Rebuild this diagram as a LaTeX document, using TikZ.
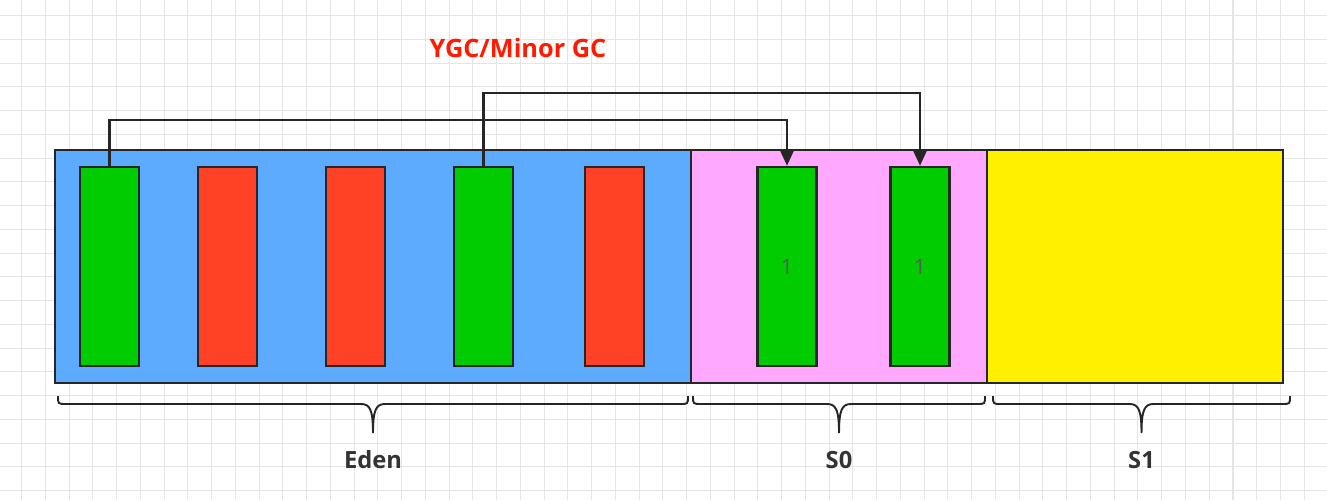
\documentclass[tikz,border=0pt]{standalone}
\usepackage{fontspec}
\setmainfont{Open Sans}
\usepackage{tikz}
\usetikzlibrary{math,arrows.meta}
\definecolor{edenblue}{HTML}{5CABFF}
\definecolor{szeropink}{HTML}{FFA8FF}
\definecolor{soneyellow}{HTML}{FFF000}
\definecolor{livegreen}{HTML}{00CC00}
\definecolor{deadred}{HTML}{FF4125}
\definecolor{gcred}{HTML}{FF1A00}
\definecolor{edge}{HTML}{262626}
\begin{document}
\begin{tikzpicture}[x=0.02cm,y=-0.02cm,
gridline/.style={draw=black!10,line width=0.6pt},
area/.style={draw=edge,line width=1.4pt,inner sep=0pt,outer sep=0pt,anchor=north west,minimum height=4.66cm},
obj/.style={draw=edge,line width=1.4pt,inner sep=0pt,minimum width=1.18cm,minimum height=3.98cm,font=\fontsize{12}{14}\selectfont,text=black!65},
live/.style={obj,fill=livegreen},dead/.style={obj,fill=deadred},
move/.style={draw=edge,line width=1.4pt,-{Triangle[length=0.3cm,width=0.26cm]}},
lbl/.style={font=\fontsize{13.5}{16}\bfseries,text=black!80}]
\useasboundingbox(0,0)rectangle(1327,500);
\foreach\k in{0,...,54}{\draw[gridline](21.7+23.75*\k,0)--++(0,500);}
\foreach\k in{0,...,20}{\draw[gridline](0,15.7+23.75*\k)--++(1327,0);}
\node[area,fill=edenblue,minimum width=12.72cm](eden)at(55,150){};
\node[area,fill=szeropink,minimum width=5.92cm](szero)at(eden.north east){};
\node[area,fill=soneyellow,minimum width=5.92cm](sone)at(szero.north east){};
\foreach[count=\j]\x/\c in{109.5/live,227.5/dead,355.5/dead,483.5/live,614.5/dead}{\node[\c](o\j)at(\x,266.5){};}
\foreach[count=\j]\x in{787,920}{\node[live](t\j)at(\x,266.5){1};}
\draw[move](o1.north)--(o1.north|-0,120)-|(t1.north);
\draw[move](o4.north)--(o4.north|-0,93)-|(t2.north);
\node[font=\fontsize{14.4}{17}\bfseries,text=gcred](gc)at(518,48){YGC/Minor GC};
\foreach\a/\b/\t in{58/688/Eden,693/985/S0,993/1290/S1}{\tikzmath{\m=(\a+\b)/2;}
\draw[edge,line width=1.1pt](\a,396)..controls(\a,404)..(\a+8,404)--(\m-12,404)..controls(\m-3,404)and(\m,410)..(\m,433)..controls(\m,410)and(\m+3,404)..(\m+12,404)--(\b-8,404)..controls(\b,404)..(\b,396);
\node[lbl](l\t)at(\m,460){\t};}
\end{tikzpicture}
\end{document}
